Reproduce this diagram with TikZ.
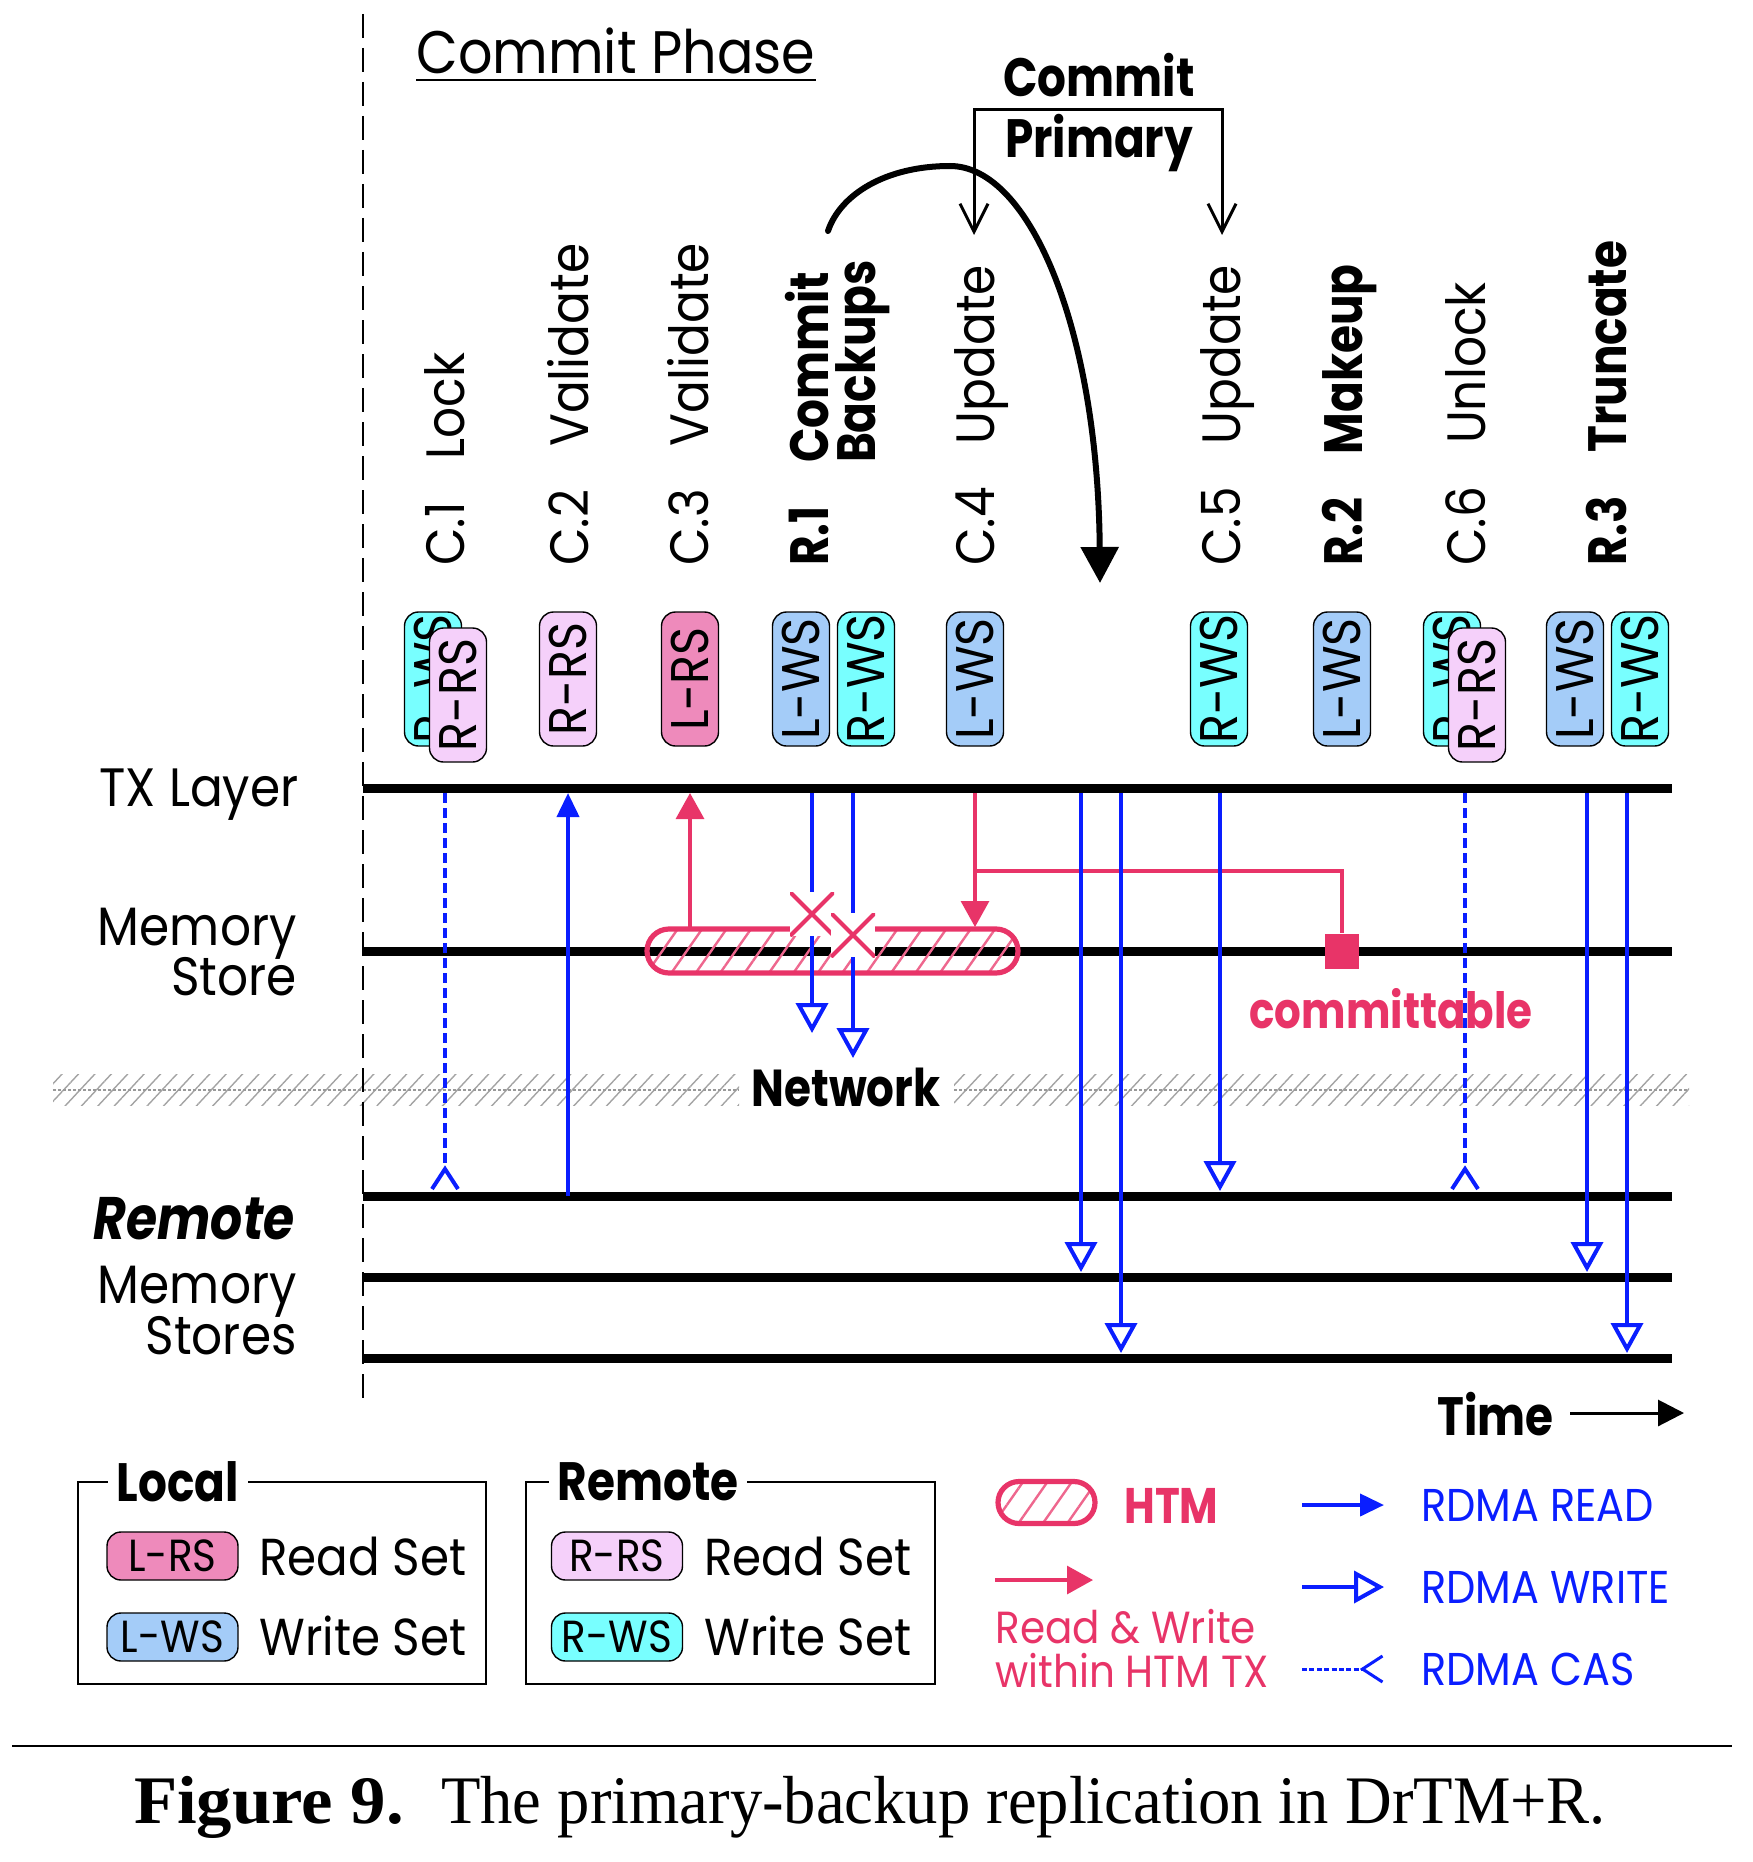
\documentclass[tikz,border=0pt]{standalone}
\usepackage{fontspec}
\setmainfont{Poppins}[FakeStretch=0.9]
\newfontfamily\pbf{Poppins}[FakeStretch=0.84]
\newfontfamily\capfont{Liberation Serif}[FakeStretch=0.95]
\newfontfamily\capfontb{Liberation Serif}[FakeStretch=1.04]
\newcommand{\bfx}{\pbf\bfseries}
\usetikzlibrary{arrows.meta,patterns.meta,calc}
\definecolor{rwsc}{RGB}{120,255,255}
\definecolor{rrsc}{RGB}{245,208,250}
\definecolor{lrsc}{RGB}{238,138,187}
\definecolor{lwsc}{RGB}{164,204,248}
\definecolor{htmc}{RGB}{232,52,104}
\definecolor{rdmac}{RGB}{10,30,255}
\newcommand{\fsz}[1]{\fontsize{#1pt}{#1pt}\selectfont}
\tikzset{
  tline/.style={line width=4.5pt},
  setbox/.style={draw=black, line width=0.7pt, rounded corners=7pt, rotate=90,
    minimum width=67pt, minimum height=28.5pt, inner sep=0pt, font=\fsz{26.5}},
  lgbox/.style={draw=black, line width=0.7pt, rounded corners=7pt,
    minimum width=65.5pt, minimum height=24pt, inner sep=0pt, font=\fsz{22.5}},
  vlab/.style={rotate=90, anchor=base west, inner sep=0pt, font=\fsz{27}},
  vlabb/.style={vlab, font=\bfx\fsz{27}},
  lab/.style={inner sep=0pt, font=\fsz{27}},
  rd/.style={draw=rdmac, line width=2pt},
  rdread/.style={rd, -{Triangle[length=12pt,width=11pt]}},
  rdwrite/.style={rd, -{Triangle[open,length=15pt,width=16pt]}},
  rdcas/.style={rd, dash pattern=on 5pt off 2.5pt, -{Straight Barb[reversed,length=10pt,width=13pt]}},
  hl/.style={draw=htmc, line width=1.6pt},
  hlarrow/.style={hl, -{Triangle[length=13pt,width=14pt]}},
  htmbar/.style={draw=htmc, line width=2.6pt, rounded corners=11pt, inner sep=0pt,
    pattern={Lines[angle=55,distance=10pt,line width=1.2pt]}, pattern color=htmc!75},
  xnode/.style={fill=white, minimum size=22pt, inner sep=0pt,
    path picture={\draw[htmc, line width=2.1pt]
      (path picture bounding box.south west) -- (path picture bounding box.north east)
      (path picture bounding box.north west) -- (path picture bounding box.south east);}},
  band/.style={pattern={Lines[angle=47,distance=6pt,line width=0.7pt]}, pattern color=gray!72},
  bandline/.style={gray!80, line width=0.8pt, dash pattern=on 1.5pt off 1pt},
}
\begin{document}
\begin{tikzpicture}[x=0.5pt,y=-0.5pt]
\useasboundingbox (0,0) rectangle (1752,1862);

% network band
\fill[band] (53,1074) rectangle (739,1105);
\fill[band] (954,1074) rectangle (1689,1105);
\draw[bandline] (53,1090) -- (739,1090);
\draw[bandline] (954,1090) -- (1689,1090);
\node[inner sep=0pt, anchor=base, font=\bfx\fsz{26}] (net) at (846,1106) {Network};

% dashed divider
\coordinate (dtop) at (363,14);
\coordinate (dbot) at (363,1399);
\draw[line width=1pt, dash pattern=on 12pt off 5pt] (dtop) -- (dbot);

% timelines
\coordinate (txL) at (363,788);  \coordinate (txR) at (1672,788);
\coordinate (msL) at (363,951);  \coordinate (msR) at (1672,951);
\coordinate (r1L) at (363,1196); \coordinate (r1R) at (1672,1196);
\coordinate (r2L) at (363,1277); \coordinate (r2R) at (1672,1277);
\coordinate (r3L) at (363,1358); \coordinate (r3R) at (1672,1358);
\draw[tline] (txL) -- (txR);
\draw[tline] (msL) -- (msR);
\draw[tline] (r1L) -- (r1R);
\draw[tline] (r2L) -- (r2R);
\draw[tline] (r3L) -- (r3R);

% left labels
\node[lab, anchor=base east] (ltx) at (299,806) {TX Layer};
\node[lab, anchor=base east] (lms1) at (297,945) {Memory};
\node[lab, anchor=base east] (lms2) at (297,995) {Store};
\node[lab, anchor=base east, font=\bfx\itshape\fsz{30}] (lrm1) at (295,1239) {Remote};
\node[lab, anchor=base east] (lrm2) at (297,1303) {Memory};
\node[lab, anchor=base east] (lrm3) at (297,1354) {Stores};

% title
\node[lab, anchor=base west, font=\fsz{30}] (cp) at (416,74) {Commit Phase};
\draw[line width=1.3pt] ([yshift=-3pt]cp.base west) -- ([yshift=-3pt]cp.base east);

% vertical step labels
\node[vlab] (l1) at (464,566) {C.1\hspace{0.8em}Lock};
\node[vlab] (l2) at (588,566) {C.2\hspace{0.8em}Validate};
\node[vlab] (l3) at (708,566) {C.3\hspace{0.8em}Validate};
\node[vlabb] (l4) at (828,566) {R.1\hspace{0.8em}Commit};
\node[vlabb] (l4b) at (875,566) {\hphantom{R.1\hspace{0.8em}}Backups};
\node[vlab] (l5) at (994,566) {C.4\hspace{0.8em}Update};
\node[vlab] (l6) at (1240,566) {C.5\hspace{0.8em}Update};
\node[vlabb] (l7) at (1362,566) {R.2\hspace{0.8em}Makeup};
\node[vlab] (l8) at (1485,566) {C.6\hspace{0.8em}Unlock};
\node[vlabb] (l9) at (1626,566) {R.3\hspace{0.8em}Truncate};

% set boxes
\node[setbox, fill=rwsc] (b1a) at (433,679) {R-WS};
\node[setbox, fill=rrsc] (b1b) at (458,695) {R-RS};
\node[setbox, fill=rrsc] (b2) at (568,679) {R-RS};
\node[setbox, fill=lrsc] (b3) at (690,679) {L-RS};
\node[setbox, fill=lwsc] (b4a) at (801,679) {L-WS};
\node[setbox, fill=rwsc] (b4b) at (866,679) {R-WS};
\node[setbox, fill=lwsc] (b5) at (975,679) {L-WS};
\node[setbox, fill=rwsc] (b6) at (1219,679) {R-WS};
\node[setbox, fill=lwsc] (b7) at (1342,679) {L-WS};
\node[setbox, fill=rwsc] (b8a) at (1452,679) {R-WS};
\node[setbox, fill=rrsc] (b8b) at (1477,695) {R-RS};
\node[setbox, fill=lwsc] (b9a) at (1575,679) {L-WS};
\node[setbox, fill=rwsc] (b9b) at (1640,679) {R-WS};

% big curved arrow
\coordinate (cbS) at (828,231);
\coordinate (cbM) at (950,166);
\coordinate (cbE) at (1100,583);
\draw[line width=3pt, line cap=round, -{Triangle[length=18pt,width=18.5pt]}]
  (cbS) .. controls (840,195) and (885,166) .. (cbM)
        .. controls (1030,166) and (1098,330) .. (cbE);

% commit primary bracket
\coordinate (cpL) at (974,235);
\coordinate (cpT) at (1222,110);
\coordinate (cpR) at (1222,235);
\draw[line width=1.5pt, {Straight Barb[length=14pt,width=14pt]}-{Straight Barb[length=14pt,width=14pt]}]
  (cpL) |- (cpT) -- (cpR);
\node[inner sep=0pt, anchor=base, font=\bfx\fsz{27}] (cmt) at (1099,97) {Commit};
\node[inner sep=0pt, anchor=base, font=\bfx\fsz{27}] (pri) at (1099,158) {Primary};

% HTM bar
\node[htmbar, minimum width=185.5pt, minimum height=22pt] (htm) at (832.5,951) {};

% pink HTM arrows
\coordinate (c3b) at (690,929);
\coordinate (c3t) at (690,793);
\draw[hlarrow] (c3b) -- (c3t);
\coordinate (c4t) at (975,793);
\coordinate (c4b) at (975,927);
\coordinate (c4m) at (975,871);
\draw[hlarrow] (c4t) -- (c4b);
\node[fill=htmc, minimum width=17pt, minimum height=17.5pt, inner sep=0pt] (sq) at (1342,951) {};
\draw[hl] (c4m) -| (sq.north);
\node[inner sep=0pt, anchor=base, text=htmc, font=\bfx\fsz{25}] (cmtb) at (1391,1028) {committable};

% RDMA arrows
\coordinate (c1t) at (445,793);  \coordinate (c1b) at (445,1191);
\draw[rdcas] (c1t) -- (c1b);
\coordinate (c2b) at (568,1196); \coordinate (c2t) at (568,793);
\draw[rdread] (c2b) -- (c2t);
\coordinate (w1t) at (812,793);  \coordinate (w1b) at (812,1033);
\coordinate (w2t) at (853,793);  \coordinate (w2b) at (853,1058);
\draw[rdwrite] (w1t) -- (w1b);
\draw[rdwrite] (w2t) -- (w2b);
\coordinate (w3t) at (1081,793); \coordinate (w3b) at (1081,1272);
\coordinate (w4t) at (1121,793); \coordinate (w4b) at (1121,1353);
\coordinate (w5t) at (1220,793); \coordinate (w5b) at (1220,1191);
\draw[rdwrite] (w3t) -- (w3b);
\draw[rdwrite] (w4t) -- (w4b);
\draw[rdwrite] (w5t) -- (w5b);
\coordinate (c6t) at (1465,793); \coordinate (c6b) at (1465,1191);
\draw[rdcas] (c6t) -- (c6b);
\coordinate (w6t) at (1587,793); \coordinate (w6b) at (1587,1272);
\coordinate (w7t) at (1627,793); \coordinate (w7b) at (1627,1353);
\draw[rdwrite] (w6t) -- (w6b);
\draw[rdwrite] (w7t) -- (w7b);

% abort marks
\node[xnode] (x1) at (812,914) {};
\node[xnode] (x2) at (853,935) {};

% time arrow
\node[inner sep=0pt, anchor=base west, font=\bfx\fsz{27}] (time) at (1437,1435) {Time};
\coordinate (ta1) at (1570,1413); \coordinate (ta2) at (1684,1413);
\draw[line width=1.5pt, -{Triangle[length=13pt,width=13pt]}] (ta1) -- (ta2);

% legend frames
\draw[line width=0.8pt] (78,1482) rectangle (486,1684);
\node[fill=white, inner xsep=4.5pt, inner ysep=0pt, font=\bfx\fsz{27}] (loc) at (178,1482) {Local};
\draw[line width=0.8pt] (526,1482) rectangle (935,1684);
\node[fill=white, inner xsep=4.5pt, inner ysep=0pt, font=\bfx\fsz{27}] (rem) at (648,1482) {Remote};

\node[lgbox, fill=lrsc] (g1) at (172.5,1556) {L-RS};
\node[lgbox, fill=lwsc] (g2) at (172.5,1637) {L-WS};
\node[lgbox, fill=rrsc] (g3) at (617,1556) {R-RS};
\node[lgbox, fill=rwsc] (g4) at (617,1637) {R-WS};
\node[lab, anchor=base west, font=\fsz{26}] (t1) at (259,1575) {Read Set};
\node[lab, anchor=base west, font=\fsz{26}] (t2) at (259,1655) {Write Set};
\node[lab, anchor=base west, font=\fsz{26}] (t3) at (704,1575) {Read Set};
\node[lab, anchor=base west, font=\fsz{26}] (t4) at (704,1655) {Write Set};

% HTM legend
\node[htmbar, rounded corners=10.5pt, minimum width=48.5pt, minimum height=21pt] (lhtm) at (1046.5,1502.5) {};
\node[lab, anchor=base west, text=htmc, font=\bfx\fsz{25}] (thtm) at (1124,1523) {HTM};
\coordinate (lp1) at (995,1580); \coordinate (lp2) at (1093,1580);
\draw[hlarrow] (lp1) -- (lp2);
\node[lab, anchor=base west, text=htmc, font=\fsz{22.5}] (trw1) at (995,1643) {Read \& Write};
\node[lab, anchor=base west, text=htmc, font=\fsz{22.5}] (trw2) at (995,1687) {within HTM TX};

% RDMA legend
\coordinate (la1) at (1302,1505); \coordinate (la2) at (1384,1505);
\coordinate (lb1) at (1302,1587); \coordinate (lb2) at (1384,1587);
\coordinate (lc1) at (1302,1669); \coordinate (lc2) at (1384,1669);
\draw[rdread] (la1) -- (la2);
\draw[rdwrite] (lb1) -- (lb2);
\draw[rdcas, line width=1.5pt, dash pattern=on 2.5pt off 1.2pt] (lc1) -- (lc2);
\node[lab, anchor=base west, text=rdmac, font=\fsz{23}] (tr1) at (1421,1521) {RDMA READ};
\node[lab, anchor=base west, text=rdmac, font=\fsz{23}] (tr2) at (1421,1603) {RDMA WRITE};
\node[lab, anchor=base west, text=rdmac, font=\fsz{23}] (tr3) at (1421,1685) {RDMA CAS};

% caption
\coordinate (rl) at (12,1746); \coordinate (rr) at (1732,1746);
\draw[line width=1.3pt] (rl) -- (rr);
\node[inner sep=0pt, anchor=base, font=\capfont\fsz{34}] (cap) at (870,1823)
  {{\capfontb\bfseries Figure 9.}\hspace{0.55em}The primary-backup replication in DrTM+R.};
\end{tikzpicture}
\end{document}
